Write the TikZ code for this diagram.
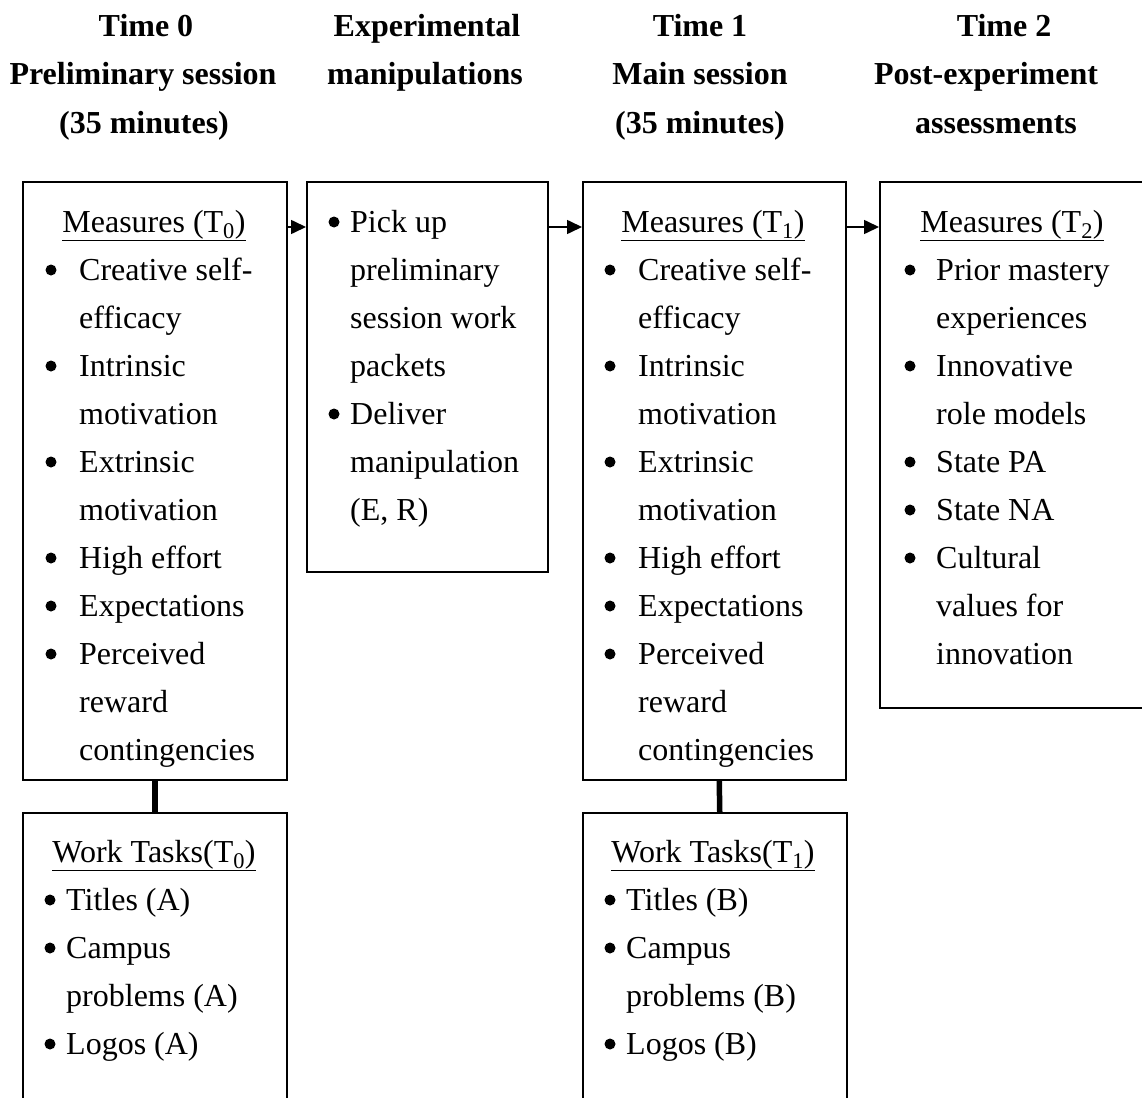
\documentclass[tikz,border=0pt]{standalone}
\usepackage{fontspec}
\setmainfont{Liberation Serif}
\usetikzlibrary{arrows.meta}
\newcommand\bodysize{\fontsize{32}{48}\selectfont}
\newcommand\headsize{\fontsize{32}{48}\selectfont\bfseries}
\newcommand\sub[1]{\textsubscript{#1}}
\begin{document}
\begin{tikzpicture}[x=1pt,y=-1pt,
  panel/.style={draw, line width=1.5pt, anchor=north west, inner sep=0pt},
  head/.style={anchor=base, inner sep=0pt, font=\headsize},
  title/.style={anchor=base, inner sep=0pt, font=\bodysize},
  txt/.style={anchor=base west, inner sep=0pt, font=\bodysize},
  dot/.style={circle, fill, inner sep=0pt, minimum size=11pt},
  flow/.style={-{Triangle[length=15pt,width=14pt]}, line width=1.6pt},
  link/.style={line width=5.5pt}]
\useasboundingbox (0,0) rectangle (1142,1097);
\clip (0,0) rectangle (1142,1097);

% column headings
\node[head] (h0a) at (146,37) {Time 0};
\node[head] (h0b) at (143,85) {Preliminary session};
\node[head] (h0c) at (144,133) {(35 minutes)};
\node[head] (h1a) at (427,37) {Experimental};
\node[head] (h1b) at (425,85) {manipulations};
\node[head] (h2a) at (700,37) {Time 1};
\node[head] (h2b) at (700,85) {Main session};
\node[head] (h2c) at (700,133) {(35 minutes)};
\node[head] (h3a) at (1004,37) {Time 2};
\node[head] (h3b) at (986,85) {Post-experiment};
\node[head] (h3c) at (996,133) {assessments};

% boxes
\node[panel, minimum width=264pt, minimum height=598pt] (mA) at (22,181) {};
\node[panel, minimum width=241pt, minimum height=390pt] (mB) at (306,181) {};
\node[panel, minimum width=263pt, minimum height=598pt] (mC) at (582,181) {};
\node[panel, minimum width=320pt, minimum height=526pt] (mD) at (879,181) {};
\node[panel, minimum width=264pt, minimum height=330pt] (wA) at (22,812) {};
\node[panel, minimum width=264pt, minimum height=330pt] (wC) at (582,812) {};

% connectors
\draw[flow] ([yshift=-46pt]mA.north east) -- ([yshift=-46pt]mB.north west);
\draw[flow] ([yshift=-46pt]mB.north east) -- ([yshift=-46pt]mC.north west);
\draw[flow] ([yshift=-46pt]mC.north east) -- ([yshift=-46pt]mD.north west);
\draw[link] (mA.south) -- (wA.north);
\draw[link] ([xshift=5pt]mC.south) -- ([xshift=5pt]wC.north);

% measures at time 0
\node[title] (tA) at (154,232) {\underline{Measures (T\sub{0})}};
\foreach \b/\t [count=\i] in {1/Creative self-, 0/efficacy, 1/Intrinsic, 0/motivation,
    1/Extrinsic, 0/motivation, 1/High effort, 1/Expectations, 1/Perceived, 0/reward,
    0/contingencies}{
  \node[txt] (A-\i) at (79,232+48*\i) {\t};
  \ifnum\b=1 \node[dot] (Ab-\i) at (51,222+48*\i) {};\fi
}

% manipulations
\foreach \b/\t [count=\i from 0] in {1/Pick up, 0/preliminary, 0/session work, 0/packets,
    1/Deliver, 0/manipulation, {0/(E, R)}}{
  \node[txt] (B-\i) at (350,232+48*\i) {\t};
  \ifnum\b=1 \node[dot] (Bb-\i) at (334,222+48*\i) {};\fi
}

% measures at time 1
\node[title] (tC) at (713,232) {\underline{Measures (T\sub{1})}};
\foreach \b/\t [count=\i] in {1/Creative self-, 0/efficacy, 1/Intrinsic, 0/motivation,
    1/Extrinsic, 0/motivation, 1/High effort, 1/Expectations, 1/Perceived, 0/reward,
    0/contingencies}{
  \node[txt] (C-\i) at (638,232+48*\i) {\t};
  \ifnum\b=1 \node[dot] (Cb-\i) at (610,222+48*\i) {};\fi
}

% measures at time 2
\node[title] (tD) at (1012,232) {\underline{Measures (T\sub{2})}};
\foreach \b/\t [count=\i] in {1/Prior mastery, 0/experiences, 1/Innovative, 0/role models,
    1/State PA, 1/State NA, 1/Cultural, 0/values for, 0/innovation}{
  \node[txt] (D-\i) at (936,232+48*\i) {\t};
  \ifnum\b=1 \node[dot] (Db-\i) at (910,222+48*\i) {};\fi
}

% work tasks at time 0
\node[title] (tWA) at (154,862) {\underline{Work Tasks(T\sub{0})}};
\foreach \b/\t [count=\i] in {1/Titles (A), 1/Campus, 0/problems (A), 1/Logos (A)}{
  \node[txt] (WA-\i) at (66,862+48*\i) {\t};
  \ifnum\b=1 \node[dot] (WAb-\i) at (50,852+48*\i) {};\fi
}

% work tasks at time 1
\node[title] (tWC) at (713,862) {\underline{Work Tasks(T\sub{1})}};
\foreach \b/\t [count=\i] in {1/Titles (B), 1/Campus, 0/problems (B), 1/Logos (B)}{
  \node[txt] (WC-\i) at (626,862+48*\i) {\t};
  \ifnum\b=1 \node[dot] (WCb-\i) at (610,852+48*\i) {};\fi
}
\end{tikzpicture}
\end{document}
